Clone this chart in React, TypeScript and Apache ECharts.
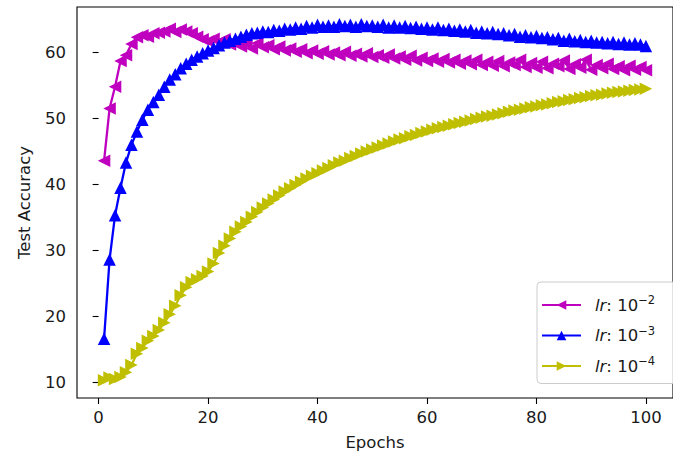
import React, { useEffect, useRef } from "react";
import * as echarts from "echarts";

const epochs = Array.from({ length: 100 }, (_, i) => i + 1);

const seriesNames = ["lr: 10^-2", "lr: 10^-3", "lr: 10^-4"];
const superscripts = ["−2", "−3", "−4"];
const seriesColors = ["#bf00bf", "#0000ff", "#bfbf00"];

const lr1e2 = [
  43.6, 51.5, 54.8, 58.7, 59.6, 61.3, 62.3, 62.6, 62.4, 62.9,
  63.0, 63.2, 63.6, 63.1, 63.5, 63.2, 62.9, 62.4, 62.0, 61.7,
  62.1, 61.6, 62.0, 61.2, 61.5, 60.9, 61.3, 60.6, 61.4, 60.8,
  61.1, 60.5, 60.9, 60.3, 60.6, 60.1, 60.5, 59.9, 60.3, 59.8,
  60.2, 59.7, 60.0, 59.6, 60.1, 59.5, 59.8, 59.4, 59.9, 59.3,
  59.6, 59.2, 59.7, 59.1, 59.4, 58.9, 59.5, 58.8, 59.2, 58.7,
  59.1, 58.6, 59.0, 58.5, 58.9, 58.3, 58.8, 58.2, 58.9, 58.1,
  58.6, 58.0, 58.7, 57.9, 58.5, 58.1, 58.9, 57.8, 58.4, 57.7,
  58.6, 57.6, 58.3, 57.9, 58.8, 57.5, 58.2, 57.7, 58.9, 57.4,
  58.1, 57.6, 58.3, 57.5, 57.9, 57.3, 58.0, 57.4, 57.8, 57.3,
];

const lr1e3 = [
  16.6, 28.6, 35.3, 39.5, 43.3, 46.0, 48.0, 49.8, 51.3, 52.5,
  53.6, 54.8, 55.9, 56.7, 57.6, 58.3, 58.9, 59.4, 59.9, 60.3,
  60.7, 61.1, 61.5, 61.8, 62.1, 62.4, 62.7, 62.9, 63.0, 63.2,
  63.1, 63.4, 63.3, 63.6, 63.5, 63.8, 63.6, 64.0, 63.8, 64.2,
  63.9, 64.1, 63.9, 64.3, 64.0, 64.2, 63.9, 64.3, 64.0, 64.1,
  63.9, 64.2, 63.8, 64.1, 63.8, 64.0, 63.7, 63.9, 63.6, 63.8,
  63.5, 63.8, 63.4, 63.6, 63.3, 63.5, 63.2, 63.4, 63.0, 63.2,
  62.9, 63.1, 62.8, 62.9, 62.6, 62.8, 62.4, 62.6, 62.3, 62.5,
  62.2, 62.3, 62.0, 62.2, 61.8, 62.1, 61.7, 61.9, 61.6, 61.8,
  61.5, 61.6, 61.4, 61.6, 61.3, 61.5, 61.2, 61.4, 61.2, 61.0,
];

const lr1e4 = [
  10.3, 10.7, 10.5, 10.8, 11.5, 12.6, 14.3, 15.2, 16.3, 17.0,
  17.9, 19.0, 20.3, 21.6, 23.2, 24.4, 25.2, 25.6, 26.1, 26.8,
  28.0, 29.6, 30.7, 31.8, 32.8, 33.6, 34.3, 35.1, 35.8, 36.5,
  37.1, 37.7, 38.3, 38.9, 39.4, 39.9, 40.4, 40.9, 41.3, 41.7,
  42.1, 42.5, 42.9, 43.3, 43.6, 44.0, 44.3, 44.7, 45.0, 45.3,
  45.6, 45.9, 46.2, 46.5, 46.8, 47.0, 47.3, 47.5, 47.8, 48.0,
  48.3, 48.5, 48.7, 48.9, 49.1, 49.3, 49.5, 49.7, 49.9, 50.1,
  50.3, 50.4, 50.6, 50.8, 51.0, 51.2, 51.3, 51.5, 51.7, 51.8,
  52.0, 52.1, 52.3, 52.5, 52.6, 52.8, 52.9, 53.1, 53.2, 53.4,
  53.5, 53.6, 53.8, 53.9, 54.0, 54.1, 54.2, 54.3, 54.4, 54.5,
];

const xTicks = [0, 20, 40, 60, 80, 100];
const yTicks = [10, 20, 30, 40, 50, 60];
const seriesValues = [lr1e2, lr1e3, lr1e4];
const symbolRotations = [90, 0, -90];

const FONT = "DejaVu Sans";
const FS = 16.5;
const TEXT = "#1a1a1a";

export default function App() {
  const ref = useRef<HTMLDivElement>(null);

  useEffect(() => {
    if (!ref.current) return;
    const chart = echarts.init(ref.current, null, { renderer: "svg" });
    const option = {
      animation: false,
      backgroundColor: "#ffffff",
      textStyle: { fontFamily: FONT },
      grid: {
        left: 77,
        top: 7,
        width: 604,
        height: 391,
        show: true,
        borderColor: "#000000",
        borderWidth: 1.1,
        backgroundColor: "transparent",
        containLabel: false,
      },
      xAxis: {
        type: "value",
        min: -3.95,
        max: 104.95,
        name: "Epochs",
        nameLocation: "middle",
        nameGap: 36,
        nameTextStyle: { fontFamily: FONT, fontSize: FS, color: TEXT },
        axisLine: { show: false },
        axisTick: {
          show: true,
          length: 6,
          lineStyle: { color: "#000000", width: 1.1 },
          customValues: xTicks,
        },
        axisLabel: {
          customValues: xTicks,
          fontFamily: FONT,
          fontSize: FS,
          color: TEXT,
          margin: 11,
        },
        splitLine: { show: false },
      },
      yAxis: {
        type: "value",
        min: 7.6,
        max: 66.9,
        name: "Test Accuracy",
        nameLocation: "middle",
        nameRotate: 90,
        nameGap: 44,
        nameTextStyle: { fontFamily: FONT, fontSize: FS, color: TEXT },
        axisLine: { show: false },
        axisTick: {
          show: true,
          length: 6,
          lineStyle: { color: "#000000", width: 1.1 },
          customValues: yTicks,
        },
        axisLabel: {
          customValues: yTicks,
          fontFamily: FONT,
          fontSize: FS,
          color: TEXT,
          margin: 11,
        },
        splitLine: { show: false },
      },
      legend: {
        orient: "vertical",
        left: 537,
        top: 282,
        padding: [12, 21, 9, 4],
        itemWidth: 39,
        itemHeight: 12,
        itemGap: 11,
        backgroundColor: "rgba(255,255,255,0.8)",
        borderColor: "#cccccc",
        borderWidth: 1,
        borderRadius: 4,
        data: seriesNames,
        formatter: (name: string) => {
          const idx = seriesNames.indexOf(name);
          return `{i|lr}{n|: 10}{s|${superscripts[idx]}}`;
        },
        textStyle: {
          fontFamily: FONT,
          color: TEXT,
          rich: {
            i: { fontFamily: FONT, fontStyle: "italic", fontSize: FS, color: TEXT, padding: [0, 0, 0, 9], lineHeight: 22 },
            n: { fontFamily: FONT, fontSize: FS, color: TEXT, lineHeight: 22 },
            s: { fontFamily: FONT, fontSize: 11.5, color: TEXT, verticalAlign: "top", lineHeight: 11 },
          },
        },
      },
      series: seriesNames.map((name, k) => ({
        name,
        type: "line",
        data: epochs.map((e, i) => [e, seriesValues[k][i]]),
        symbol: "triangle",
        symbolSize: 12.5,
        symbolRotate: symbolRotations[k],
        showSymbol: true,
        showAllSymbol: true,
        color: seriesColors[k],
        itemStyle: { color: seriesColors[k], borderWidth: 0 },
        lineStyle: { color: seriesColors[k], width: 2.3 },
        emphasis: { disabled: true },
        z: 2 + k,
      })),
    };
    chart.setOption(option as any);
    return () => chart.dispose();
  }, []);

  return (
    <div
      ref={ref}
      style={{ position: "fixed", left: 0, top: 0, width: 673, height: 462 }}
    />
  );
}
